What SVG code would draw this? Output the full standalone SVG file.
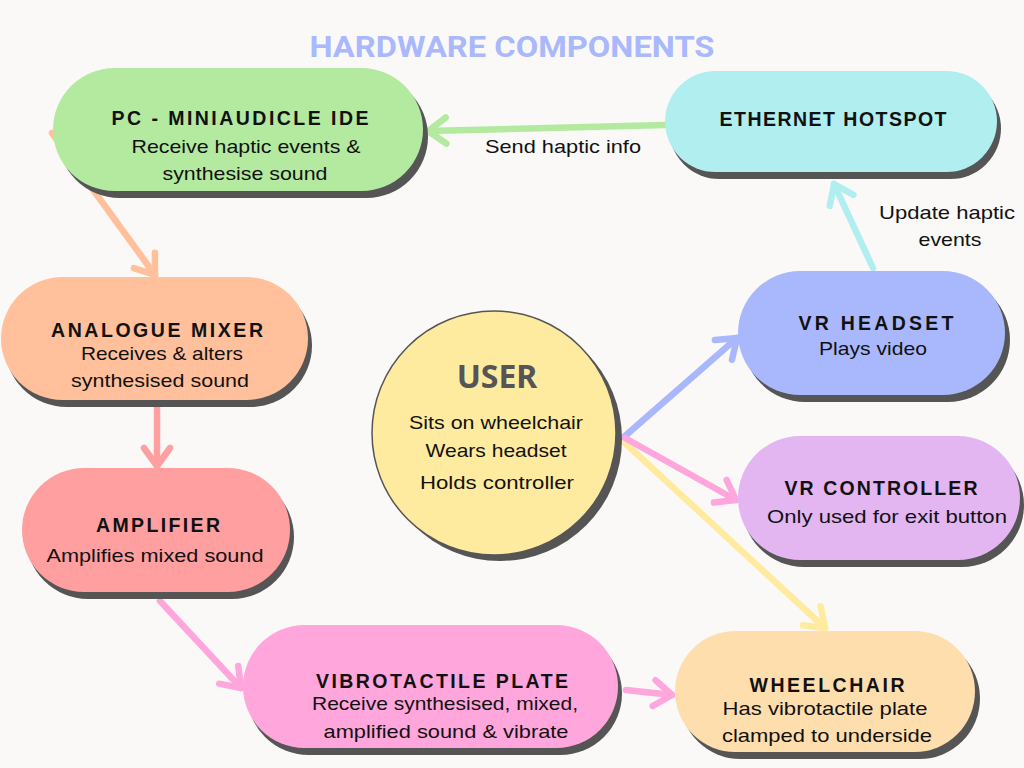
<svg xmlns="http://www.w3.org/2000/svg" width="1024" height="768" viewBox="0 0 1024 768">
<style>
.bg{fill:#faf9f7}
.sh{fill:#555555}
.t{font-family:"Liberation Sans",Arial,sans-serif;font-weight:700;font-size:19.5px;letter-spacing:2px;fill:#111;text-anchor:middle}
.b{font-family:"Liberation Sans",Arial,sans-serif;font-size:19px;fill:#111;text-anchor:middle}
.c{fill:none;stroke-width:6.5;stroke-linecap:round}
</style>
<defs>
<marker id="mGreen" markerUnits="userSpaceOnUse" markerWidth="40" markerHeight="40" refX="0" refY="0" viewBox="-25 -20 30 40" orient="auto" overflow="visible"><path d="M-18,-13 L0,0 L-18,13" fill="none" stroke="#b4e9a0" stroke-width="6.5" stroke-linecap="round" stroke-linejoin="round"/></marker>
<marker id="mCyan" markerUnits="userSpaceOnUse" markerWidth="40" markerHeight="40" refX="0" refY="0" viewBox="-25 -20 30 40" orient="auto" overflow="visible"><path d="M-18,-13 L0,0 L-18,13" fill="none" stroke="#b0eef0" stroke-width="6.5" stroke-linecap="round" stroke-linejoin="round"/></marker>
<marker id="mBlue" markerUnits="userSpaceOnUse" markerWidth="40" markerHeight="40" refX="0" refY="0" viewBox="-25 -20 30 40" orient="auto" overflow="visible"><path d="M-18,-13 L0,0 L-18,13" fill="none" stroke="#a9b8fd" stroke-width="6.5" stroke-linecap="round" stroke-linejoin="round"/></marker>
<marker id="mPink" markerUnits="userSpaceOnUse" markerWidth="40" markerHeight="40" refX="0" refY="0" viewBox="-25 -20 30 40" orient="auto" overflow="visible"><path d="M-18,-13 L0,0 L-18,13" fill="none" stroke="#ffa6dc" stroke-width="6.5" stroke-linecap="round" stroke-linejoin="round"/></marker>
<marker id="mYellow" markerUnits="userSpaceOnUse" markerWidth="40" markerHeight="40" refX="0" refY="0" viewBox="-25 -20 30 40" orient="auto" overflow="visible"><path d="M-18,-13 L0,0 L-18,13" fill="none" stroke="#ffeb9f" stroke-width="6.5" stroke-linecap="round" stroke-linejoin="round"/></marker>
<marker id="mOrange" markerUnits="userSpaceOnUse" markerWidth="40" markerHeight="40" refX="0" refY="0" viewBox="-25 -20 30 40" orient="auto" overflow="visible"><path d="M-18,-13 L0,0 L-18,13" fill="none" stroke="#ffc09b" stroke-width="6.5" stroke-linecap="round" stroke-linejoin="round"/></marker>
<marker id="mRed" markerUnits="userSpaceOnUse" markerWidth="40" markerHeight="40" refX="0" refY="0" viewBox="-25 -20 30 40" orient="auto" overflow="visible"><path d="M-18,-13 L0,0 L-18,13" fill="none" stroke="#ff9f9f" stroke-width="6.5" stroke-linecap="round" stroke-linejoin="round"/></marker>
</defs>
<rect class="bg" x="0" y="0" width="1024" height="768"/>
<text x="512" y="57" font-family="Roboto,'Liberation Sans',sans-serif" font-weight="700" font-size="30" fill="#aab8fc" text-anchor="middle" textLength="405" lengthAdjust="spacingAndGlyphs">HARDWARE COMPONENTS</text>

<g id="connectors">
<line class="c" x1="665" y1="125" x2="428" y2="131" stroke="#b4e9a0" marker-end="url(#mGreen)"/>
<line class="c" x1="873" y1="268" x2="834" y2="184" stroke="#b0eef0" marker-end="url(#mCyan)"/>
<line class="c" x1="625" y1="436" x2="737" y2="338" stroke="#a9b8fd" marker-end="url(#mBlue)"/>
<line class="c" x1="625" y1="443" x2="825" y2="628" stroke="#ffeb9f" marker-end="url(#mYellow)"/>
<line class="c" x1="625" y1="438" x2="736" y2="500" stroke="#ffa6dc" marker-end="url(#mPink)"/>
<line class="c" x1="52" y1="133" x2="155" y2="275" stroke="#ffc09b" marker-end="url(#mOrange)"/>
<line class="c" x1="157" y1="407" x2="157" y2="466" stroke="#ff9f9f" marker-end="url(#mRed)"/>
<line class="c" x1="160" y1="601" x2="241" y2="688" stroke="#ffa6dc" marker-end="url(#mPink)"/>
<line class="c" x1="626" y1="690" x2="672" y2="695" stroke="#ffa6dc" marker-end="url(#mPink)"/>
</g>

<g id="pc">
<rect class="sh" x="58" y="75" width="370" height="123" rx="61.5"/>
<rect x="53" y="68" width="370" height="123" rx="61.5" fill="#b4e9a0"/>
<text class="t" x="241" y="125" textLength="259">PC - MINIAUDICLE IDE</text>
<text class="b" x="246" y="153" textLength="229" lengthAdjust="spacingAndGlyphs">Receive haptic events &amp;</text>
<text class="b" x="245" y="180" textLength="165" lengthAdjust="spacingAndGlyphs">synthesise sound</text>
</g>

<g id="ethernet">
<rect class="sh" x="669" y="78" width="332" height="101" rx="50.5"/>
<rect x="665" y="71" width="332" height="101" rx="50.5" fill="#b0eef0"/>
<text class="t" x="834" y="126" textLength="229">ETHERNET HOTSPOT</text>
</g>
<g id="labels">
<text class="b" x="563" y="153" textLength="156" lengthAdjust="spacingAndGlyphs">Send haptic info</text>
<text class="b" x="947" y="219" textLength="136" lengthAdjust="spacingAndGlyphs">Update haptic</text>
<text class="b" x="950" y="246" textLength="63" lengthAdjust="spacingAndGlyphs">events</text>
</g>

<g id="mixer">
<rect class="sh" x="5" y="284" width="307" height="123" rx="61.5"/>
<rect x="1" y="277" width="307" height="123" rx="61.5" fill="#ffc09b"/>
<text class="t" x="158" y="337" textLength="214">ANALOGUE MIXER</text>
<text class="b" x="162" y="360" textLength="162" lengthAdjust="spacingAndGlyphs">Receives &amp; alters</text>
<text class="b" x="160" y="387" textLength="178" lengthAdjust="spacingAndGlyphs">synthesised sound</text>
</g>

<g id="amplifier">
<rect class="sh" x="26" y="475" width="268" height="124" rx="62"/>
<rect x="22" y="468" width="268" height="124" rx="62" fill="#ff9f9f"/>
<text class="t" x="159" y="532" textLength="126">AMPLIFIER</text>
<text class="b" x="155" y="562" textLength="217" lengthAdjust="spacingAndGlyphs">Amplifies mixed sound</text>
</g>

<g id="user">
<circle class="sh" cx="500" cy="439" r="122"/>
<circle cx="494" cy="433" r="122" fill="#ffeb9f" stroke="#555555" stroke-width="1.5"/>
<text x="497" y="388" font-family="'Noto Sans','Liberation Sans',sans-serif" font-weight="700" font-size="32" fill="#555555" text-anchor="middle">USER</text>
<text class="b" x="496" y="429" textLength="174" lengthAdjust="spacingAndGlyphs">Sits on wheelchair</text>
<text class="b" x="496" y="457" textLength="141" lengthAdjust="spacingAndGlyphs">Wears headset</text>
<text class="b" x="497" y="489" textLength="154" lengthAdjust="spacingAndGlyphs">Holds controller</text>
</g>

<g id="vr-headset">
<rect class="sh" x="743" y="278" width="267" height="124" rx="62"/>
<rect x="738" y="271" width="267" height="124" rx="62" fill="#a9b8fd"/>
<text class="t" x="877" y="330" textLength="157">VR HEADSET</text>
<text class="b" x="873" y="355" textLength="108" lengthAdjust="spacingAndGlyphs">Plays video</text>
</g>

<g id="vr-controller">
<rect class="sh" x="742" y="443" width="282" height="124" rx="62"/>
<rect x="738" y="436" width="282" height="124" rx="62" fill="#e3b6f2"/>
<text class="t" x="882" y="495" textLength="195">VR CONTROLLER</text>
<text class="b" x="887" y="523" textLength="240" lengthAdjust="spacingAndGlyphs">Only used for exit button</text>
</g>

<g id="vibrotactile">
<rect class="sh" x="247" y="632" width="375" height="123" rx="61.5"/>
<rect x="243" y="625" width="375" height="123" rx="61.5" fill="#ffa6dc"/>
<text class="t" x="443" y="688" textLength="254">VIBROTACTILE PLATE</text>
<text class="b" x="445" y="710" textLength="266" lengthAdjust="spacingAndGlyphs">Receive synthesised, mixed,</text>
<text class="b" x="446" y="738" textLength="245" lengthAdjust="spacingAndGlyphs">amplified sound &amp; vibrate</text>
</g>

<g id="wheelchair">
<rect class="sh" x="680" y="638" width="300" height="121" rx="60.5"/>
<rect x="675" y="631" width="300" height="121" rx="60.5" fill="#ffdeae"/>
<text class="t" x="828" y="692" textLength="157">WHEELCHAIR</text>
<text class="b" x="825" y="715" textLength="205" lengthAdjust="spacingAndGlyphs">Has vibrotactile plate</text>
<text class="b" x="827" y="742" textLength="210" lengthAdjust="spacingAndGlyphs">clamped to underside</text>
</g>
</svg>
